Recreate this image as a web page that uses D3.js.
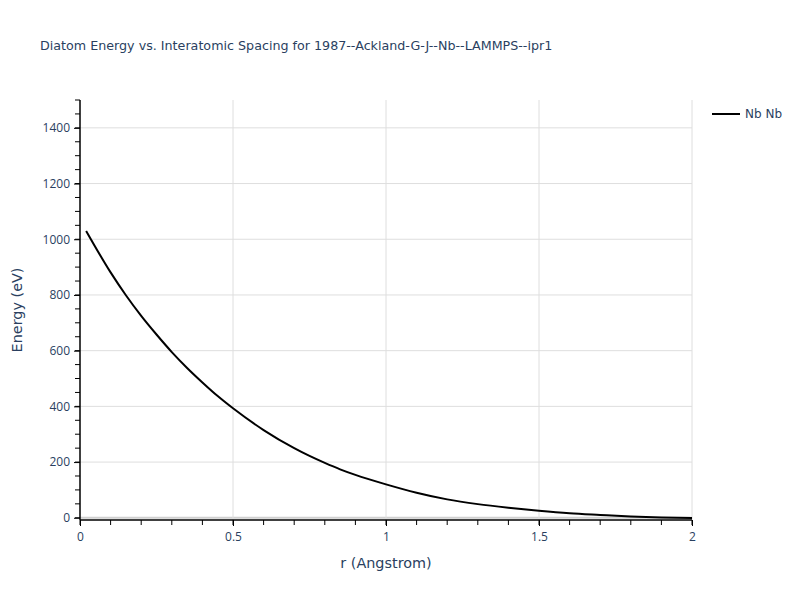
<!DOCTYPE html>
<html>
<head>
<meta charset="utf-8">
<script src="https://cdn.jsdelivr.net/npm/d3@7"></script>
<style>
  body { margin: 0; background: #fff; }
  text { font-family: "DejaVu Sans", verdana, arial, sans-serif; fill: #2a3f5f; }
</style>
</head>
<body>
<div id="chart"></div>
<script>
// data
var rValues = [0.02, 0.1, 0.15, 0.2, 0.25, 0.3, 0.35, 0.4, 0.45, 0.5, 0.6, 0.7, 0.75, 0.8, 0.85, 0.9, 1.0, 1.1, 1.2, 1.3, 1.4, 1.5, 1.6, 1.7, 1.8, 1.9, 2.0];
var energyValues = [1030, 881, 799, 725, 658, 595, 538, 486, 437, 393, 315, 250, 222, 197, 174, 154, 120, 90, 66, 49, 36, 25, 16, 10, 4.5, 1, -1];
var seriesName = "Nb Nb";
var xTicks = [0, 0.5, 1, 1.5, 2];
var yTicks = [0, 200, 400, 600, 800, 1000, 1200, 1400];

var W = 800, H = 600;
var margin = { top: 100, right: 108, bottom: 80, left: 80 },
    width = W - margin.left - margin.right,
    height = H - margin.top - margin.bottom;

var svg = d3.select("#chart")
    .append("svg")
    .attr("width", W)
    .attr("height", H);

var g = svg.append("g")
    .attr("transform", "translate(" + margin.left + "," + margin.top + ")");

var x = d3.scaleLinear().domain([0, 2]).range([0, width]);
var y = d3.scaleLinear().domain([-8, 1500]).range([height, 0]);

// grid
g.append("g").selectAll("line")
    .data(yTicks)
    .enter().append("line")
    .attr("x1", 0).attr("x2", width)
    .attr("y1", function(d) { return y(d); })
    .attr("y2", function(d) { return y(d); })
    .attr("stroke", d => d === 0 ? "#d0d0d0" : "#dedede")
    .attr("stroke-width", d => d === 0 ? 2 : 1);

g.append("g").selectAll("line")
    .data(xTicks.filter(d => d > 0))
    .enter().append("line")
    .attr("y1", 0).attr("y2", height)
    .attr("x1", function(d) { return x(d); })
    .attr("x2", function(d) { return x(d); })
    .attr("stroke", "#dedede");

// minor ticks
var xMinor = d3.range(0, 21).map(i => i / 10);
var yMinor = d3.range(0, 31).map(i => i * 50);

g.append("g").selectAll("line")
    .data(xMinor)
    .enter().append("line")
    .attr("x1", d => x(d)).attr("x2", d => x(d))
    .attr("y1", height).attr("y2", height + 5)
    .attr("stroke", "#000");

g.append("g").selectAll("line")
    .data(yMinor)
    .enter().append("line")
    .attr("x1", -5).attr("x2", 0)
    .attr("y1", d => y(d)).attr("y2", d => y(d))
    .attr("stroke", "#000");

// axes
var xAxis = g.append("g")
    .attr("transform", "translate(0," + height + ")")
    .call(d3.axisBottom(x).tickValues(xTicks).tickSize(6).tickPadding(6).tickFormat(d3.format("")));
var yAxis = g.append("g")
    .call(d3.axisLeft(y).tickValues(yTicks).tickSize(6).tickPadding(4).tickFormat(d3.format("")));

[xAxis, yAxis].forEach(function(a) {
    a.select(".domain").attr("stroke", "#000").attr("stroke-width", 1.5);
    a.selectAll(".tick line").attr("stroke", "#000");
    a.selectAll(".tick text")
        .style("font-family", "'Open Sans', verdana, arial, sans-serif")
        .style("font-size", "12px")
        .style("fill", "#2a3f5f");
});
xAxis.select(".domain").attr("d", "M0,0H" + width);
yAxis.select(".domain").attr("d", "M0,0V" + height);

// line
var data = rValues.map((r, i) => ({ r: r, e: energyValues[i] }));
var valueline = d3.line()
    .curve(d3.curveMonotoneX)
    .x(function(d) { return x(d.r); })
    .y(function(d) { return y(d.e); });

g.append("path")
    .datum(data)
    .attr("fill", "none")
    .attr("stroke", "#000")
    .attr("stroke-width", 2)
    .attr("d", valueline);

// title
svg.append("text")
    .attr("x", 40).attr("y", 50)
    .style("font-size", "12.7px")
    .text("Diatom Energy vs. Interatomic Spacing for 1987--Ackland-G-J--Nb--LAMMPS--ipr1");

// axis titles
svg.append("text")
    .attr("x", margin.left + width / 2).attr("y", 568)
    .attr("text-anchor", "middle")
    .style("font-size", "14.4px")
    .text("r (Angstrom)");

svg.append("text")
    .attr("transform", "translate(22," + (margin.top + height / 2) + ") rotate(-90)")
    .attr("text-anchor", "middle")
    .style("font-size", "14.4px")
    .text("Energy (eV)");

// legend
svg.append("line")
    .attr("x1", 712).attr("x2", 740)
    .attr("y1", 114).attr("y2", 114)
    .attr("stroke", "#000").attr("stroke-width", 2);
svg.append("text")
    .attr("x", 745).attr("y", 114)
    .attr("dominant-baseline", "central")
    .style("font-size", "12px")
    .text(seriesName);
</script>
</body>
</html>
